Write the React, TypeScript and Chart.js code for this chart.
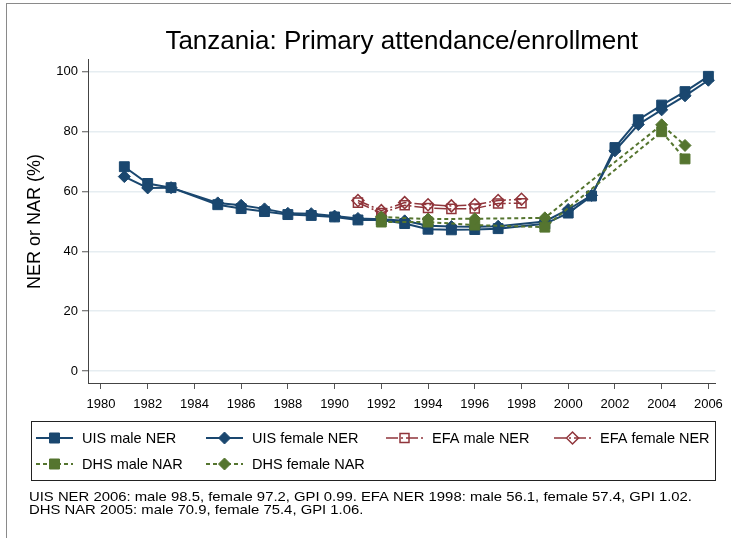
import React, { useEffect, useRef } from 'react';
import { Chart, registerables } from 'chart.js';

Chart.register(...registerables);

// ---------------- data ----------------
const uisYears = [1981, 1982, 1983, 1985, 1986, 1987, 1988, 1989, 1990, 1991, 1992, 1993, 1994, 1995, 1996, 1997, 1999, 2000, 2001, 2002, 2003, 2004, 2005, 2006];
const uisMale = [68.3, 62.7, 61.3, 55.6, 54.3, 53.3, 52.3, 52.0, 51.5, 50.5, 50.5, 49.3, 47.4, 47.2, 47.3, 47.6, 49.2, 52.8, 58.5, 74.7, 84.0, 88.9, 93.4, 98.5];
const uisFemale = [65.0, 61.2, 61.3, 56.2, 55.4, 54.2, 52.7, 52.6, 51.8, 51.0, 50.7, 50.2, 48.6, 48.3, 48.2, 48.4, 50.0, 54.0, 58.7, 73.6, 82.4, 87.3, 92.0, 97.2];

const efaYears = [1991, 1992, 1993, 1994, 1995, 1996, 1997, 1998];
const efaMale = [56.3, 52.8, 55.4, 54.5, 54.2, 54.3, 56.0, 56.1];
const efaFemale = [57.0, 53.6, 56.3, 55.6, 55.2, 55.6, 57.0, 57.4];

const dhsYears = [1992, 1994, 1996, 1999, 2004, 2005];
const dhsMale = [49.8, 49.8, 48.8, 48.1, 80.0, 70.9];
const dhsFemale = [51.5, 50.8, 50.9, 51.2, 82.3, 75.4];

const xTicks = [1980, 1982, 1984, 1986, 1988, 1990, 1992, 1994, 1996, 1998, 2000, 2002, 2004, 2006];
const yTicks = [0, 20, 40, 60, 80, 100];

const titleText = 'Tanzania: Primary attendance/enrollment';
const yTitleText = 'NER or NAR (%)';
const seriesLabels = ['UIS male NER', 'UIS female NER', 'EFA male NER', 'EFA female NER', 'DHS male NAR', 'DHS female NAR'];
const noteLines = [
  'UIS NER 2006: male 98.5, female 97.2, GPI 0.99. EFA NER 1998: male 56.1, female 57.4, GPI 1.02.',
  'DHS NAR 2005: male 70.9, female 75.4, GPI 1.06.',
];

// ---------------- styles ----------------
const FONT = '"Liberation Sans", Arial, sans-serif';
const NAVY = '#1a476f';
const MAROON = '#90353b';
const GREEN = '#55752f';

type Style = {
  color: string;
  shape: 'square' | 'diamond';
  hollow: boolean;
  dash: number[];
  width: number;
};

const styles: Style[] = [
  { color: NAVY, shape: 'square', hollow: false, dash: [], width: 2 },
  { color: NAVY, shape: 'diamond', hollow: false, dash: [], width: 2 },
  { color: MAROON, shape: 'square', hollow: true, dash: [12, 3, 2, 3], width: 1.5 },
  { color: MAROON, shape: 'diamond', hollow: true, dash: [12, 3, 2, 3], width: 1.5 },
  { color: GREEN, shape: 'square', hollow: false, dash: [4, 3], width: 2 },
  { color: GREEN, shape: 'diamond', hollow: false, dash: [4, 3], width: 2 },
];

const seriesData = [
  [uisYears, uisMale],
  [uisYears, uisFemale],
  [efaYears, efaMale],
  [efaYears, efaFemale],
  [dhsYears, dhsMale],
  [dhsYears, dhsFemale],
];

function drawMarker(ctx: CanvasRenderingContext2D, st: Style, x: number, y: number) {
  ctx.save();
  ctx.setLineDash([]);
  ctx.beginPath();
  if (st.shape === 'square') {
    const h = st.hollow ? 4.5 : 5;
    ctx.rect(x - h, y - h, 2 * h, 2 * h);
  } else {
    const r = 6;
    ctx.moveTo(x - r, y);
    ctx.lineTo(x, y - r);
    ctx.lineTo(x + r, y);
    ctx.lineTo(x, y + r);
    ctx.closePath();
  }
  if (st.hollow) {
    ctx.lineWidth = 1.5;
    ctx.strokeStyle = st.color;
    ctx.stroke();
  } else {
    ctx.fillStyle = st.color;
    ctx.fill();
    ctx.lineWidth = 1;
    ctx.strokeStyle = st.color;
    ctx.stroke();
  }
  ctx.restore();
}

const decorPlugin = {
  id: 'decor',
  beforeDraw(chart: any) {
    const ctx = chart.ctx as CanvasRenderingContext2D;
    ctx.save();
    ctx.fillStyle = '#ffffff';
    ctx.fillRect(0, 0, chart.width, chart.height);
    // outer frame
    ctx.strokeStyle = '#8a8a8a';
    ctx.lineWidth = 1;
    ctx.strokeRect(6.5, 3.5, 900, 900);
    ctx.restore();
  },
  afterDraw(chart: any) {
    const ctx = chart.ctx as CanvasRenderingContext2D;
    const ca = chart.chartArea;
    ctx.save();
    // title
    ctx.fillStyle = '#000';
    ctx.textAlign = 'center';
    ctx.textBaseline = 'middle';
    ctx.font = `26px ${FONT}`;
    ctx.fillText(titleText, (ca.left + ca.right) / 2, 42);
    // y title
    ctx.save();
    ctx.translate(35, (chart.scales.y.getPixelForValue(0) + chart.scales.y.getPixelForValue(100)) / 2);
    ctx.rotate(-Math.PI / 2);
    ctx.font = `18px ${FONT}`;
    ctx.fillText(yTitleText, 0, 0);
    ctx.restore();

    // legend box
    ctx.strokeStyle = '#222';
    ctx.lineWidth = 1;
    ctx.strokeRect(31.5, 421.5, 684, 59);
    const colText = [82, 252, 432, 600];
    const rowY = [438, 464];
    ctx.font = `14.5px ${FONT}`;
    ctx.textAlign = 'left';
    ctx.textBaseline = 'middle';
    seriesLabels.forEach((lab, i) => {
      const row = Math.floor(i / 4);
      const col = i % 4;
      const st = styles[i];
      const tx = colText[col];
      const y = rowY[row];
      const x0 = tx - 46;
      const x1 = tx - 9;
      ctx.save();
      ctx.strokeStyle = st.color;
      ctx.lineWidth = st.width;
      ctx.setLineDash(st.dash);
      ctx.beginPath();
      ctx.moveTo(x0, y);
      ctx.lineTo(x1, y);
      ctx.stroke();
      ctx.restore();
      drawMarker(ctx, st, (x0 + x1) / 2, y);
      ctx.fillStyle = '#000';
      ctx.fillText(lab, tx, y + 1);
    });

    // footnote (slightly condensed vertically, as in the reference)
    ctx.font = `13.5px ${FONT}`;
    ctx.textBaseline = 'middle';
    const sx = 663 / ctx.measureText(noteLines[0]).width;
    [497, 510].forEach((y, k) => {
      ctx.save();
      ctx.translate(29, y);
      ctx.scale(sx, 1);
      ctx.fillText(noteLines[k], 0, 0);
      ctx.restore();
    });
    ctx.restore();
  },
};

export default function App() {
  const ref = useRef<HTMLCanvasElement>(null);

  useEffect(() => {
    if (!ref.current) return;
    const datasets = seriesData.map(([xs, ys], i) => {
      const st = styles[i];
      return {
        label: seriesLabels[i],
        data: xs.map((x, k) => ({ x, y: ys[k] })),
        borderColor: st.color,
        backgroundColor: st.color,
        borderWidth: st.width,
        borderDash: st.dash,
        pointStyle: st.shape === 'square' ? 'rect' : 'rectRot',
        pointRadius: st.shape === 'square' ? (st.hollow ? 6.4 : 7) : 6,
        pointBorderWidth: st.hollow ? 1.5 : 1,
        pointBorderColor: st.color,
        pointBackgroundColor: st.hollow ? 'rgba(0,0,0,0)' : st.color,
        tension: 0,
        fill: false,
        order: 6 - i,
        clip: false as any,
      };
    });

    const chart = new Chart(ref.current, {
      type: 'line',
      data: { datasets },
      options: {
        responsive: false,
        animation: false,
        layout: { padding: { left: 0, right: 14, top: 59, bottom: 115 } },
        plugins: {
          legend: { display: false },
          tooltip: { enabled: false },
          title: { display: false },
        },
        scales: {
          x: {
            type: 'linear',
            min: 1979.445,
            max: 2006.3,
            afterBuildTicks: (s: any) => {
              s.ticks = xTicks.map((v) => ({ value: v }));
            },
            afterFit: (s: any) => {
              s.height = 40;
            },
            grid: { drawOnChartArea: false, drawTicks: true, tickLength: 6, tickColor: '#555', tickWidth: 1 },
            border: { display: true, color: '#444', width: 1 },
            ticks: {
              color: '#000',
              font: { family: FONT, size: 13 },
              padding: 8,
              maxRotation: 0,
              autoSkip: false,
              callback: (v: any) => String(v),
            },
          },
          y: {
            type: 'linear',
            min: -4,
            max: 104.3,
            afterBuildTicks: (s: any) => {
              s.ticks = yTicks.map((v) => ({ value: v }));
            },
            afterFit: (s: any) => {
              s.width = 88;
            },
            grid: { color: '#e6edf1', lineWidth: 1.5, drawTicks: true, tickLength: 6, tickColor: '#555', tickWidth: 1 },
            border: { display: true, color: '#444', width: 1 },
            ticks: {
              color: '#000',
              font: { family: FONT, size: 13 },
              padding: 4,
              autoSkip: false,
              callback: (v: any) => String(v),
            },
          },
        },
      },
      plugins: [decorPlugin],
    } as any);
    return () => chart.destroy();
  }, []);

  return (
    <div style={{ position: 'absolute', left: 0, top: 0, width: 731, height: 538 }}>
      <canvas ref={ref} width={731} height={538} />
    </div>
  );
}
